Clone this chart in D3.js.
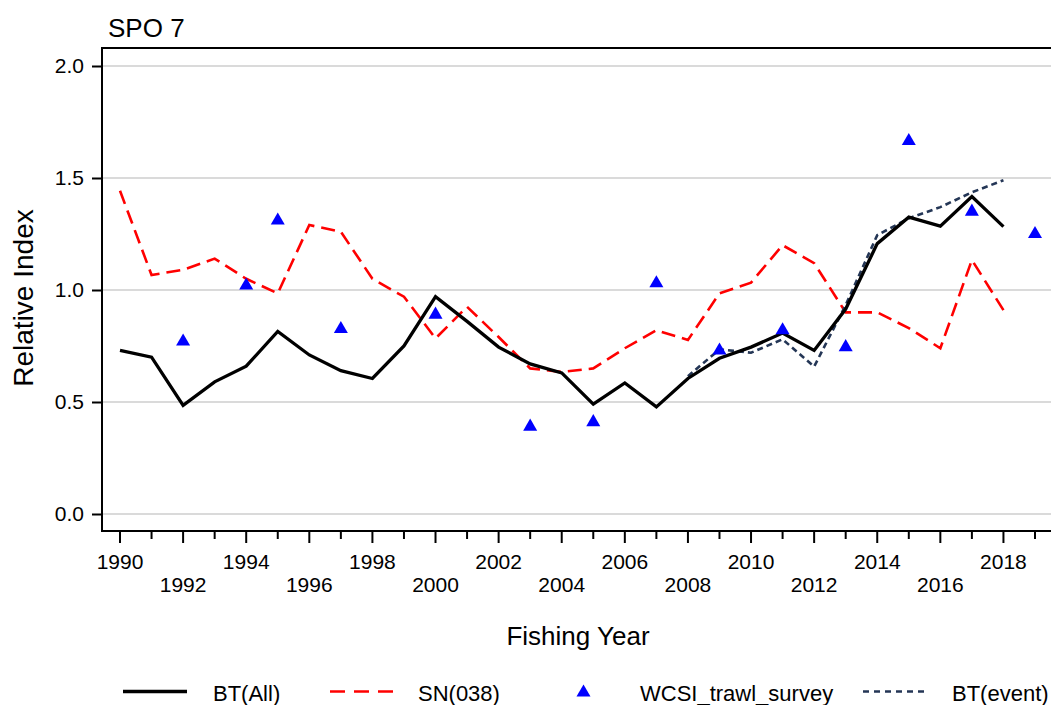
<!DOCTYPE html>
<html>
<head>
<meta charset="utf-8">
<script src="https://cdn.jsdelivr.net/npm/d3@7"></script>
<style>
  html, body { margin: 0; padding: 0; background: #fff; }
  svg { display: block; font-family: "Liberation Sans", Arial, sans-serif; }
</style>
</head>
<body>
<svg id="chart" width="1051" height="705"></svg>
<script>
// ---- data ----
const title = "SPO 7";
const xTitle = "Fishing Year";
const yTitle = "Relative Index";
const seriesNames = ["BT(All)", "SN(038)", "WCSI_trawl_survey", "BT(event)"];

const yearsMain = [1990,1991,1992,1993,1994,1995,1996,1997,1998,1999,2000,2001,2002,2003,2004,2005,2006,2007,2008,2009,2010,2011,2012,2013,2014,2015,2016,2017,2018];
const btAll = [0.73,0.70,0.485,0.59,0.66,0.815,0.71,0.64,0.605,0.75,0.97,0.86,0.745,0.67,0.63,0.49,0.585,0.478,0.605,0.695,0.745,0.808,0.73,0.915,1.207,1.325,1.285,1.417,1.283];
const sn038 = [1.443,1.067,1.09,1.14,1.05,0.985,1.29,1.26,1.05,0.97,0.784,0.925,0.79,0.65,0.634,0.65,0.74,0.82,0.777,0.985,1.033,1.20,1.12,0.90,0.90,0.83,0.74,1.134,0.91];

const yearsEvent = [2008,2009,2010,2011,2012,2013,2014,2015,2016,2017,2018];
const btEvent = [0.615,0.735,0.72,0.78,0.658,0.933,1.245,1.32,1.37,1.436,1.49];

const yearsSurvey = [1992,1994,1995,1997,2000,2003,2005,2007,2009,2011,2013,2015,2017,2019];
const survey = [0.77,1.02,1.31,0.826,0.89,0.39,0.41,1.03,0.73,0.82,0.745,1.665,1.35,1.25];

const yTicks = [0, 0.5, 1.0, 1.5, 2.0];
const xTickYears = d3.range(1990, 2020);

// ---- layout ----
const svg = d3.select("#chart");
const frame = {left: 102, top: 48, right: 1053, bottom: 531};
const x = d3.scaleLinear().domain([1990, 2019]).range([120, 1035]);
const y = d3.scaleLinear().domain([0, 2]).range([514, 66]);

const colBlack = "#000000", colRed = "#ff0000", colBlue = "#0000ff", colNavy = "#243656";

// gridlines
svg.append("g").selectAll("line").data(yTicks).join("line")
  .attr("x1", frame.left).attr("x2", frame.right)
  .attr("y1", d => y(d)).attr("y2", d => y(d))
  .attr("stroke", "#dadada").attr("stroke-width", 2.2);

// frame
svg.append("rect")
  .attr("x", frame.left).attr("y", frame.top)
  .attr("width", frame.right - frame.left).attr("height", frame.bottom - frame.top)
  .attr("fill", "none").attr("stroke", "#000").attr("stroke-width", 2);

// y axis ticks + labels
const yAxis = d3.axisLeft(y).tickValues(yTicks).tickFormat(d3.format(".1f")).tickSize(10).tickPadding(8);
const gy = svg.append("g").attr("transform", `translate(${frame.left},0)`).call(yAxis);
gy.select(".domain").remove();
gy.selectAll(".tick line").attr("stroke", "#000").attr("stroke-width", 2);
gy.selectAll(".tick text").attr("font-size", 21).attr("fill", "#000")
  .attr("font-family", "Liberation Sans, Arial, sans-serif");

// x axis ticks
const gx = svg.append("g").attr("transform", `translate(0,${frame.bottom})`);
gx.selectAll("line").data(xTickYears).join("line")
  .attr("x1", d => x(d)).attr("x2", d => x(d))
  .attr("y1", 0).attr("y2", d => d % 2 === 0 ? 12 : 8)
  .attr("stroke", "#000").attr("stroke-width", 2);
gx.selectAll("text").data(xTickYears.filter(d => d % 2 === 0)).join("text")
  .attr("x", d => x(d))
  .attr("y", d => ((d - 1990) % 4 === 0) ? 38 : 61)
  .attr("text-anchor", "middle").attr("font-size", 21).attr("fill", "#000")
  .text(d => d);

// titles
svg.append("text").attr("x", 108).attr("y", 37).attr("font-size", 26).attr("fill", "#000").text(title);
svg.append("text").attr("x", 578).attr("y", 645).attr("text-anchor", "middle")
  .attr("font-size", 26).attr("fill", "#000").text(xTitle);
svg.append("text").attr("transform", "translate(33,298) rotate(-90)").attr("text-anchor", "middle")
  .attr("font-size", 28).attr("fill", "#000").text(yTitle);

// lines
const line = d3.line().x(d => x(d[0])).y(d => y(d[1]));
const plot = svg.append("g");
plot.append("path").datum(d3.zip(yearsMain, sn038)).attr("d", line)
  .attr("fill", "none").attr("stroke", colRed).attr("stroke-width", 2.6).attr("stroke-dasharray", "14,7");
plot.append("path").datum(d3.zip(yearsEvent, btEvent)).attr("d", line)
  .attr("fill", "none").attr("stroke", colNavy).attr("stroke-width", 2.6).attr("stroke-dasharray", "6,4");
plot.append("path").datum(d3.zip(yearsMain, btAll)).attr("d", line)
  .attr("fill", "none").attr("stroke", colBlack).attr("stroke-width", 3.3).attr("stroke-linejoin", "miter");

const tri = d3.symbol().type(d3.symbolTriangle).size(85);
plot.selectAll(".tri").data(d3.zip(yearsSurvey, survey)).join("path")
  .attr("class", "tri")
  .attr("transform", d => `translate(${x(d[0])},${y(d[1])})`)
  .attr("d", tri).attr("fill", colBlue);

// legend
const lg = svg.append("g");
const ly = 691.5, ty = 701;
lg.append("line").attr("x1", 123).attr("x2", 187).attr("y1", ly).attr("y2", ly)
  .attr("stroke", colBlack).attr("stroke-width", 3.3);
lg.append("text").attr("x", 213).attr("y", ty).attr("font-size", 22).text(seriesNames[0]);
lg.append("line").attr("x1", 330).attr("x2", 393).attr("y1", ly).attr("y2", ly)
  .attr("stroke", colRed).attr("stroke-width", 2.6).attr("stroke-dasharray", "15,9");
lg.append("text").attr("x", 418).attr("y", ty).attr("font-size", 22).text(seriesNames[1]);
lg.append("path").attr("transform", `translate(583.5,${ly + 1})`).attr("d", tri).attr("fill", colBlue);
lg.append("text").attr("x", 640).attr("y", ty).attr("font-size", 22).text(seriesNames[2]);
lg.append("line").attr("x1", 863).attr("x2", 927).attr("y1", ly).attr("y2", ly)
  .attr("stroke", colNavy).attr("stroke-width", 2.6).attr("stroke-dasharray", "6,5");
lg.append("text").attr("x", 952).attr("y", ty).attr("font-size", 22).text(seriesNames[3]);
</script>
</body>
</html>
